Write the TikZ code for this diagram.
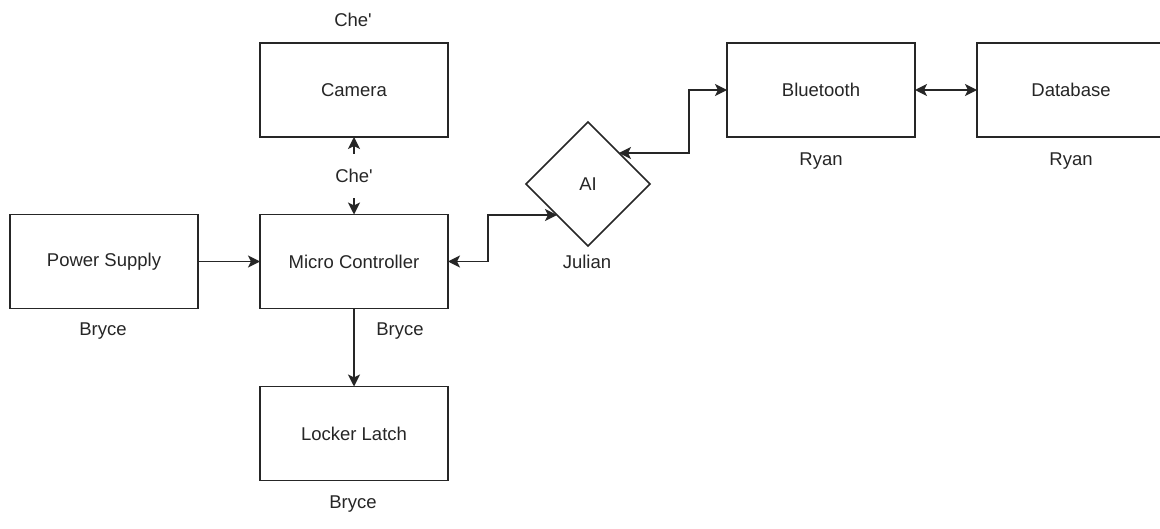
\documentclass[tikz,border=0pt]{standalone}
\usepackage{fontspec}
\setmainfont{Liberation Sans}
\usetikzlibrary{arrows.meta,shapes.geometric}
\begin{document}
\begin{tikzpicture}[x=1pt,y=-1pt,
  every node/.style={font=\fontsize{18.5}{22}\selectfont, text=black!85},
  blockbox/.style={draw=black!85, line width=1.5pt, minimum width=188pt, minimum height=94pt, inner sep=0pt, outer sep=0pt},
  decbox/.style={draw=black!85, line width=1.5pt, diamond, minimum width=124pt, minimum height=124pt, inner sep=0pt, outer sep=0pt},
  conn/.style={draw=black!85, line width=1.5pt, -{Stealth[length=12pt,width=12pt,inset=3pt]}},
  dconn/.style={draw=black!85, line width=1.5pt, {Stealth[length=12pt,width=12pt,inset=3pt]}-{Stealth[length=12pt,width=12pt,inset=3pt]}},
  tag/.style={inner sep=1pt}
]
\clip (0,0) rectangle (1160,529);
\fill[white] (0,0) rectangle (1160,529);

\node[blockbox] (cam) at (354,90) {Camera};
\node[blockbox] (mc) at (354,261.5) {Micro Controller};
\node[blockbox] (ps) at (104,261.5) {Power Supply};
\node[blockbox] (ll) at (354,433.5) {Locker Latch};
\node[blockbox] (bt) at (821,90) {Bluetooth};
\node[blockbox] (db) at (1071,90) {Database};
\node[decbox] (ai) at (588,184) {AI};

\node[tag] (t1) at (353,20) {Che\textquotesingle};
\node[tag] (t3) at (103,331) {Bryce};
\node[tag] (t4) at (400,331) {Bryce};
\node[tag] (t5) at (353,504) {Bryce};
\node[tag] (t6) at (587,262) {Julian};
\node[tag] (t7) at (821,161) {Ryan};
\node[tag] (t8) at (1071,161) {Ryan};

\draw[conn] (ps.east) -- (mc.west);
\draw[conn] (mc.south) -- (ll.north);
\draw[dconn] (cam.south) -- (mc.north) node[midway, fill=white, inner xsep=4pt, inner ysep=15pt] (t2) {Che\textquotesingle};
\draw[dconn] (mc.east) -- ++(40,0) |- (ai.south west);
\draw[dconn] (ai.north east) -- ++(70,0) |- (bt.west);
\draw[dconn] (bt.east) -- (db.west);
\end{tikzpicture}
\end{document}
